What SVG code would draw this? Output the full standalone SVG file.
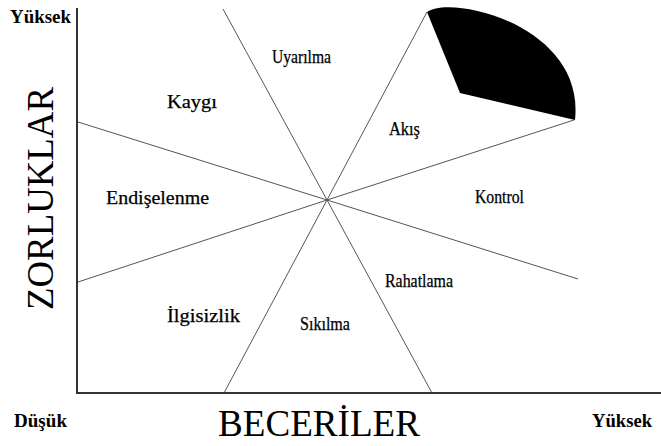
<svg xmlns="http://www.w3.org/2000/svg" width="661" height="446" viewBox="0 0 661 446">
<style>
text{font-family:"Liberation Serif","Times New Roman",serif;fill:#000}
.lbl{font-size:18px;stroke:#000;stroke-width:0.25}
.end{font-size:18px;font-weight:bold}
.big{font-size:38px}
.ray{stroke:#555;stroke-width:1;fill:none}
.axis{stroke:#333;stroke-width:2;fill:none}
</style>
<rect width="661" height="446" fill="#fff"/>
<g id="connectors">
<line class="ray" x1="327" y1="200" x2="223" y2="9"/>
<line class="ray" x1="327" y1="200" x2="427" y2="12"/>
<line class="ray" x1="327" y1="200" x2="574" y2="120"/>
<line class="ray" x1="327" y1="200" x2="578" y2="279"/>
<line class="ray" x1="327" y1="200" x2="432" y2="393"/>
<line class="ray" x1="327" y1="200" x2="224" y2="393"/>
<line class="ray" x1="327" y1="200" x2="78" y2="282"/>
<line class="ray" x1="327" y1="200" x2="78" y2="122"/>
</g>
<g id="axes">
<line class="axis" x1="77" y1="8" x2="77" y2="394"/>
<line class="axis" x1="76" y1="393" x2="661" y2="393"/>
</g>
<g id="flow-highlight">
<path d="M427,12 C450,-6 585,25 575,120 L460,93 Z" fill="#000"/>
</g>
<g id="labels">
<text class="end" x="10" y="23" textLength="61" lengthAdjust="spacingAndGlyphs">Yüksek</text>
<text class="big" transform="translate(53,198.5) rotate(-90)" text-anchor="middle" textLength="223" lengthAdjust="spacingAndGlyphs">ZORLUKLAR</text>
<text class="lbl" x="272" y="63" textLength="59" lengthAdjust="spacingAndGlyphs">Uyarılma</text>
<text class="lbl" x="167" y="108" textLength="50" lengthAdjust="spacingAndGlyphs">Kaygı</text>
<text class="lbl" x="389" y="135" textLength="31" lengthAdjust="spacingAndGlyphs">Akış</text>
<text class="lbl" x="106" y="204" textLength="103" lengthAdjust="spacingAndGlyphs">Endişelenme</text>
<text class="lbl" x="475" y="203" textLength="49" lengthAdjust="spacingAndGlyphs">Kontrol</text>
<text class="lbl" x="385" y="287" textLength="68" lengthAdjust="spacingAndGlyphs">Rahatlama</text>
<text class="lbl" x="167" y="322" textLength="73" lengthAdjust="spacingAndGlyphs">İlgisizlik</text>
<text class="lbl" x="300" y="330" textLength="50" lengthAdjust="spacingAndGlyphs">Sıkılma</text>
<text class="end" x="14" y="427" textLength="53" lengthAdjust="spacingAndGlyphs">Düşük</text>
<text class="big" x="218" y="436" textLength="202" lengthAdjust="spacingAndGlyphs">BECERİLER</text>
<text class="end" x="592" y="427" textLength="60" lengthAdjust="spacingAndGlyphs">Yüksek</text>
</g>
</svg>
